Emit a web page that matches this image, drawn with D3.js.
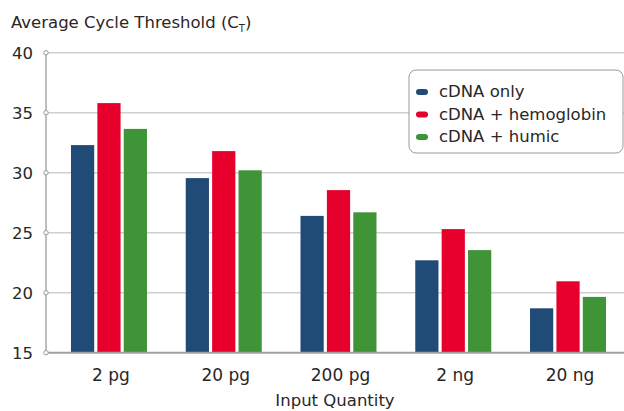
<!DOCTYPE html>
<html><head><meta charset="utf-8">
<script src="https://cdn.jsdelivr.net/npm/d3@7"></script>
<style>body{margin:0;background:#fff}svg{display:block}text{font-family:"DejaVu Sans",sans-serif;fill:#2a2627}</style>
</head><body><svg id="c" width="624" height="411"></svg>
<script>
const categories = ["2 pg","20 pg","200 pg","2 ng","20 ng"];
const seriesNames = ["cDNA only","cDNA + hemoglobin","cDNA + humic"];
const cdnaOnly = [32.3, 29.55, 26.4, 22.7, 18.7];
const cdnaHemoglobin = [35.8, 31.8, 28.55, 25.3, 20.95];
const cdnaHumic = [33.65, 30.2, 26.7, 23.55, 19.65];
const yTicks = [15,20,25,30,35,40];
const colors = ["#204b77","#e8002d","#3f9438"];

const series = [cdnaOnly, cdnaHemoglobin, cdnaHumic];
const svg = d3.select("#c");
const y = d3.scaleLinear().domain([15,40]).range([352.7,52.7]);
const x0 = d3.scaleBand().domain(categories).range([51.6,625.4]).paddingInner(0).paddingOuter(0);
const x1 = d3.scaleBand().domain(d3.range(3)).range([x0.bandwidth()/2-38, x0.bandwidth()/2+38]).paddingInner(0.12);
const axisX = 46, rightX = 624;

// gridlines
svg.append("g").selectAll("line").data(yTicks.filter(t=>t>15)).join("line")
  .attr("x1",axisX).attr("x2",rightX).attr("y1",d=>y(d)).attr("y2",d=>y(d))
  .attr("stroke","#cfcfcf").attr("stroke-width",1.5);

// bars
const g = svg.append("g");
categories.forEach((c,i)=>{
  series.forEach((s,j)=>{
    g.append("rect").attr("x",x0(c)+x1(j)).attr("width",x1.bandwidth())
     .attr("y",y(s[i])).attr("height",y(15)-y(s[i])).attr("fill",colors[j]);
  });
});

// axes
svg.append("line").attr("x1",axisX).attr("x2",axisX).attr("y1",y(40)).attr("y2",y(15))
  .attr("stroke","#aaaaaa").attr("stroke-width",1.5);
svg.append("line").attr("x1",axisX).attr("x2",rightX).attr("y1",y(15)).attr("y2",y(15))
  .attr("stroke","#a0a0a0").attr("stroke-width",2);
svg.append("g").selectAll("circle").data(yTicks).join("circle")
  .attr("cx",axisX).attr("cy",d=>y(d)).attr("r",2.2).attr("fill","#fff")
  .attr("stroke","#999").attr("stroke-width",1);
svg.append("g").selectAll("text").data(yTicks).join("text")
  .attr("x",33).attr("y",d=>y(d)).attr("dy","0.36em").attr("text-anchor","end")
  .attr("font-size",16.5).text(d=>d);

// x labels
svg.append("g").selectAll("text").data(categories).join("text")
  .attr("x",d=>x0(d)+x0.bandwidth()/2+2).attr("y",381).attr("text-anchor","middle")
  .attr("font-size",17).text(d=>d);
svg.append("text").attr("x",335).attr("y",406).attr("text-anchor","middle")
  .attr("font-size",16.5).text("Input Quantity");

// y title
const t = svg.append("text").attr("x",11).attr("y",28).attr("font-size",16.5);
t.append("tspan").text("Average Cycle Threshold (C");
t.append("tspan").attr("font-size",10).attr("dy",4).text("T");
t.append("tspan").attr("dy",-4).text(")");

// legend
const lg = svg.append("g");
lg.append("rect").attr("x",409).attr("y",70).attr("width",214).attr("height",83).attr("rx",7)
  .attr("fill","#fff").attr("stroke","#999").attr("stroke-width",1);
seriesNames.forEach((n,j)=>{
  const by = 97 + j*22.5;
  lg.append("rect").attr("x",416).attr("y",by-8).attr("width",12).attr("height",6).attr("rx",3).attr("fill",colors[j]);
  lg.append("text").attr("x",439).attr("y",by).attr("font-size",16.5).text(n);
});
</script></body></html>
